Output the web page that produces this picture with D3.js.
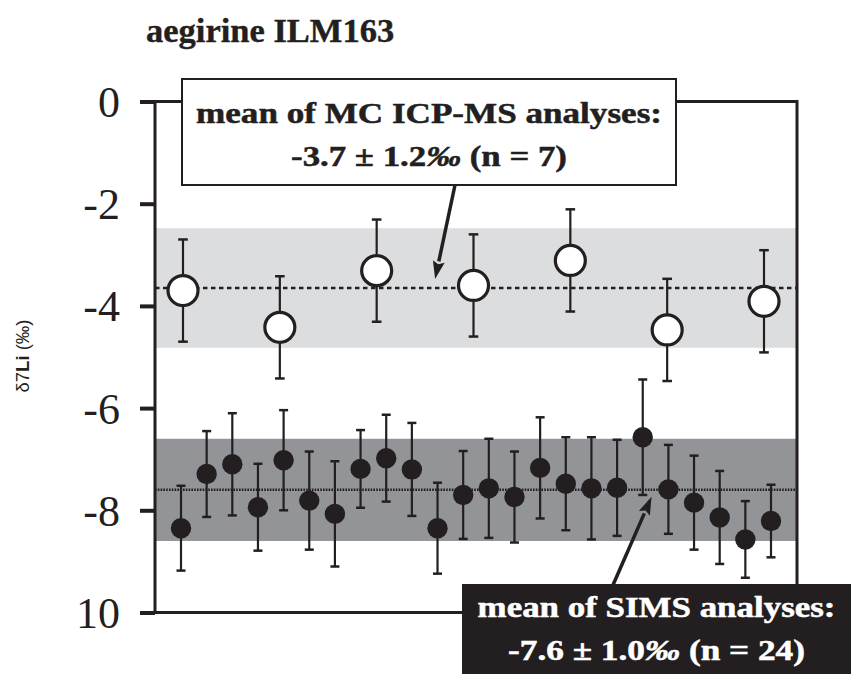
<!DOCTYPE html>
<html>
<head>
<meta charset="utf-8">
<script src="https://cdn.jsdelivr.net/npm/d3@7"></script>
<style>
	body { margin: 0; background: #fff; }
	svg { display: block; }
	.tick text { font-family: 'Liberation Serif', 'Times New Roman', serif; font-size: 44px; fill: #231f20; }
	.tick line { stroke: #231f20; stroke-width: 4; }
</style>
</head>
<body>
<script>

// MC ICP-MS analyses (open circles)
var icpValues = [-3.70, -4.42, -3.31, -3.60, -3.11, -4.47, -3.91],
	icpErrors = [1.0, 1.0, 1.0, 1.0, 1.0, 1.0, 1.0],
	icpMean = -3.65,
	icpSd = 1.17;

// SIMS analyses (filled circles)
var simsValues = [-8.35, -7.29, -7.10, -7.94, -7.02, -7.81, -8.07, -7.19, -6.98, -7.20, -8.35, -7.70,
		-7.57, -7.74, -7.17, -7.48, -7.57, -7.56, -6.57, -7.59, -7.85, -8.14, -8.57, -8.21],
	simsErrors = [0.83, 0.84, 1.00, 0.85, 0.98, 0.96, 1.03, 0.76, 0.85, 0.91, 0.89, 0.86,
		0.97, 0.89, 0.99, 0.91, 1.00, 0.94, 1.13, 0.87, 0.92, 0.91, 0.75, 0.71],
	simsMean = -7.6,
	simsSd = 1.0;

var tickValues = [0, -2, -4, -6, -8, -10],
	tickLabels = ["0", "-2", "-4", "-6", "-8", "10"];

var title = "aegirine ILM163",
	icpLabel = ["mean of MC ICP-MS analyses:", "-3.7 ± 1.2", "‰", " (n = 7)"],
	simsLabel = ["mean of SIMS analyses:", "-7.6 ± 1.0", "‰", " (n = 24)"];

var ink = "#231f20",
	lightBand = "#dcdddf",
	darkBand = "#929497",
	serif = "'Liberation Serif', 'Times New Roman', serif",
	sans = "'Liberation Sans', Arial, sans-serif";

var W = 854, H = 675,
	xLeft = 155, xRight = 797, yTop = 101.5, yBottom = 612.5;

var svg = d3.select("body").append("svg")
	.attr("width", W)
	.attr("height", H);

var y = d3.scaleLinear().domain([0, -10]).range([yTop, yBottom]);
var xIcp = d3.scalePoint().domain(d3.range(icpValues.length)).range([183, 764]);
var xSims = d3.scalePoint().domain(d3.range(simsValues.length)).range([181, 771]);

// bands
svg.append("rect")
	.attr("x", xLeft).attr("width", xRight - xLeft)
	.attr("y", y(icpMean + icpSd))
	.attr("height", y(icpMean - icpSd) - y(icpMean + icpSd))
	.attr("fill", lightBand);

svg.append("rect")
	.attr("x", xLeft).attr("width", xRight - xLeft)
	.attr("y", y(simsMean + simsSd))
	.attr("height", y(simsMean - simsSd) - y(simsMean + simsSd))
	.attr("fill", darkBand);

// mean lines
svg.append("line")
	.attr("x1", xLeft).attr("x2", xRight)
	.attr("y1", y(icpMean)).attr("y2", y(icpMean))
	.attr("stroke", ink).attr("stroke-width", 2.5)
	.attr("stroke-dasharray", "4.5,3.5");

svg.append("line")
	.attr("x1", xLeft).attr("x2", xRight)
	.attr("y1", y(simsMean)).attr("y2", y(simsMean))
	.attr("stroke", ink).attr("stroke-width", 2.5)
	.attr("stroke-dasharray", "1.6,1.2");

function errorBars(values, errors, x, cap, cls) {
	var g = svg.append("g").attr("class", cls)
		.selectAll("g")
		.data(values)
		.enter()
		.append("g")
		.attr("transform", function (d, i) {
			return "translate(" + x(i) + ",0)";
		})
		.attr("stroke", ink);

	g.append("line")
		.attr("y1", function (d, i) { return y(d + errors[i]); })
		.attr("y2", function (d, i) { return y(d - errors[i]); })
		.attr("stroke-width", 2.2);

	g.append("line")
		.attr("x1", -cap).attr("x2", cap)
		.attr("y1", function (d, i) { return y(d + errors[i]); })
		.attr("y2", function (d, i) { return y(d + errors[i]); })
		.attr("stroke-width", 2.5);

	g.append("line")
		.attr("x1", -cap).attr("x2", cap)
		.attr("y1", function (d, i) { return y(d - errors[i]); })
		.attr("y2", function (d, i) { return y(d - errors[i]); })
		.attr("stroke-width", 2.5);
}

errorBars(simsValues, simsErrors, xSims, 4.5, "simsErr");
errorBars(icpValues, icpErrors, xIcp, 4.8, "icpErr");

svg.append("g")
	.selectAll("circle")
	.data(simsValues)
	.enter()
	.append("circle")
	.attr("cx", function (d, i) { return xSims(i); })
	.attr("cy", function (d) { return y(d); })
	.attr("r", 10.2)
	.attr("fill", ink);

svg.append("g")
	.selectAll("circle")
	.data(icpValues)
	.enter()
	.append("circle")
	.attr("cx", function (d, i) { return xIcp(i); })
	.attr("cy", function (d) { return y(d); })
	.attr("r", 15)
	.attr("fill", "#fff")
	.attr("stroke", ink)
	.attr("stroke-width", 3.2);

// frame
svg.append("rect")
	.attr("x", xLeft).attr("y", yTop)
	.attr("width", xRight - xLeft).attr("height", yBottom - yTop)
	.attr("fill", "none")
	.attr("stroke", ink)
	.attr("stroke-width", 3);

var axis = svg.append("g")
	.attr("transform", "translate(" + xLeft + ",0)")
	.call(d3.axisLeft(y)
		.tickValues(tickValues)
		.tickFormat(function (d, i) { return tickLabels[i]; })
		.tickSize(15)
		.tickPadding(20));
axis.select(".domain").remove();
axis.selectAll("text").attr("dy", "0.34em");

// title
svg.append("text")
	.attr("x", 146).attr("y", 42)
	.attr("font-family", serif)
	.attr("font-weight", "bold")
	.attr("font-size", 34.5)
	.attr("fill", ink)
	.attr("stroke", ink)
	.attr("stroke-width", 0.4)
	.text(title);

// y label
var yLabel = svg.append("text")
	.attr("transform", "translate(29,356) rotate(-90)")
	.attr("text-anchor", "middle")
	.attr("font-family", sans)
	.attr("font-size", 18.5)
	.attr("fill", ink);
yLabel.append("tspan").text("δ7");
yLabel.append("tspan").attr("font-weight", "bold").text("Li");
yLabel.append("tspan").text(" (‰)");

// stretched text line, centred on cx
function wideLine(g, cx, base, width, color) {
	var holder = g.append("g");
	var t = holder.append("text")
		.attr("text-anchor", "middle")
		.attr("font-family", serif)
		.attr("font-weight", "bold")
		.attr("font-size", 28.5)
		.attr("fill", color)
		.attr("stroke", color)
		.attr("stroke-width", 0.5);
	return {
		text: t,
		fit: function () {
			var natural = t.node().getComputedTextLength();
			holder.attr("transform", "translate(" + cx + "," + base + ") scale(" + (width / natural) + ",1)");
		}
	};
}

// annotation boxes
function labelBox(lines, x0, y0, x1, y1, fill, color, widths, baselines) {
	var g = svg.append("g");
	g.append("rect")
		.attr("x", x0).attr("y", y0)
		.attr("width", x1 - x0).attr("height", y1 - y0)
		.attr("fill", fill)
		.attr("stroke", ink)
		.attr("stroke-width", 2);

	var cx = (x0 + x1) / 2;
	var l1 = wideLine(g, cx, baselines[0], widths[0], color);
	l1.text.text(lines[0]);
	l1.fit();

	var l2 = wideLine(g, cx, baselines[1], widths[1], color);
	l2.text.append("tspan").text(lines[1]);
	l2.text.append("tspan").attr("font-style", "italic").text(lines[2]);
	l2.text.append("tspan").text(lines[3]);
	l2.fit();
	return g;
}

function arrow(xa, ya, xb, yb) {
	var ang = Math.atan2(yb - ya, xb - xa),
		len = 18, half = 6;
	var bx = xb - len * Math.cos(ang), by = yb - len * Math.sin(ang);
	svg.append("line")
		.attr("x1", xa).attr("y1", ya)
		.attr("x2", bx).attr("y2", by)
		.attr("stroke", ink)
		.attr("stroke-width", 3.5);
	var px = -Math.sin(ang) * half, py = Math.cos(ang) * half;
	svg.append("path")
		.attr("d", "M" + xb + "," + yb + "L" + (bx + px) + "," + (by + py) + "L" + (bx + 3 * Math.cos(ang)) + "," + (by + 3 * Math.sin(ang)) + "L" + (bx - px) + "," + (by - py) + "Z")
		.attr("fill", ink);
}

labelBox(icpLabel, 182, 79, 676, 185, "#fff", ink, [466, 276], [123, 166]);
labelBox(simsLabel, 463, 585, 850, 673, ink, "#fff", [358, 297], [617, 660]);

arrow(455, 185, (xIcp(2) + xIcp(3)) / 2 + 10, y(icpMean) - 9);
arrow(613, 585, (xSims(18) + xSims(19)) / 2 - 4, y(simsMean) + 7);

</script>
</body>
</html>
